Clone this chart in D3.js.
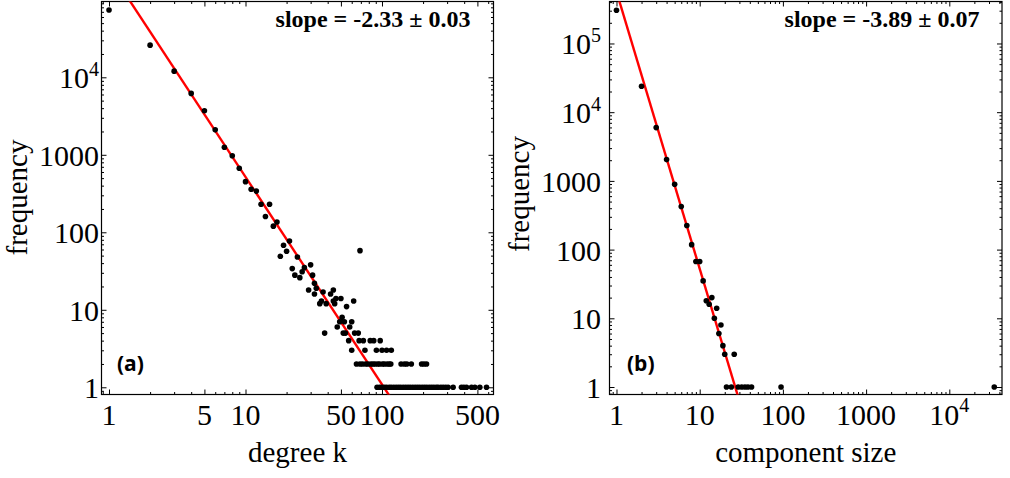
<!DOCTYPE html>
<html><head><meta charset="utf-8">
<script src="https://cdn.jsdelivr.net/npm/d3@7"></script>
<style>
html,body{margin:0;padding:0;background:#fff;}
svg{display:block;}
text{font-family:"Liberation Serif","Times New Roman",serif;fill:#000;}
</style></head><body>
<svg id="chart" width="1010" height="478"></svg>
<script>
// ---------- data ----------
const degreeK = [1,2,3,4,5,6,7,8,9,10,11,12,13,14,15,16,17,18,19,20,21,22,23,24,25,26,27,29,30,31,32,32,33,35,36,37,39,42,44,44,45,46,47,49,50,51,53,55,58,60,62,69,
  38,52,54,63,67,
  57,68,73,82,87,97,
  60,75,91,100,108,117,
  65,69,72,76,79,83,86,89,93,96,101,104,109,113,116,138,146,152,164,195,203,212,
  92,96,100,104,108,113,117,122,127,132,137,143,149,155,161,168,175,182,189,197,205,213,222,231,240,250,258,270,281,293,305,332,382,398,416,453,479,521,583];
const degreeFreq = [74000,26000,12000,6200,3700,2100,1250,970,670,450,360,340,230,160,230,120,136,49,68,57,77,34,28,48,26,31,35,18,38,28,22,16,19,12,13,17,12,16,18,13,12,14,6,7,14,8,7,11,6,7,13,58,
  5,5,5,5,5,
  4,4,4,4,4,4,
  3,3,3,3,3,3,
  2,2,2,2,2,2,2,2,2,2,2,2,2,2,2,2,2,2,2,2,2,2,
  1,1,1,1,1,1,1,1,1,1,1,1,1,1,1,1,1,1,1,1,1,1,1,1,1,1,1,1,1,1,1,1,1,1,1,1,1,1,1];

const compSize = [1,2,3,4,5,6,7,8,9,10,11,12,13,14,15,16,17,18,19,20,26,21,24,29,32,35,38,42,95,34700];
const compFreq = [304000,23800,5970,2040,893,423,224,118,67,67,35,18,16,20,10,14,6,8,4,3,3,1,1,1,1,1,1,1,1,1];

const degreeXTicks = [1,5,10,50,100,500];
const degreeYTicks = [1,10,100,1000,10000];
const compXTicks = [1,10,100,1000,10000];
const compYTicks = [1,10,100,1000,10000,100000];

// drawn red lines: [amplitude, exponent]  f = A * x^exponent
const degreeFit = [248000, -2.679];
const compFit = [568000, -4.033];

const slopeLabels = ["slope = -2.33 \u00b1 0.03", "slope = -3.89 \u00b1 0.07"];
const panelTags = ["(a)", "(b)"];
const xTitles = ["degree k", "component size"];
const yTitle = "frequency";

// ---------- layout ----------
const panels = [
  {xs:degreeK, ys:degreeFreq, xt:degreeXTicks, yt:degreeYTicks, fit:degreeFit,
   x0:101.5, x1:493.5, y0:1.5, y1:394.5, xDom:[0.881,656], yDom:[0.807,95100],
   yLabEnd:99, yTitleX:27, yTitleY:197.5, slopeX:373, tagX:117,
   slope:slopeLabels[0], tag:panelTags[0], xTitle:xTitles[0]},
  {xs:compSize, ys:compFreq, xt:compXTicks, yt:compYTicks, fit:compFit,
   x0:609.5, x1:1002, y0:1.5, y1:394.5, xDom:[0.824,42990], yDom:[0.778,408300],
   yLabEnd:601, yTitleX:529, yTitleY:194, slopeX:882, tagX:627,
   slope:slopeLabels[1], tag:panelTags[1], xTitle:xTitles[1]}
];

const svg = d3.select("#chart");

function minorTicks(dom, majors){
  const out=[];
  const lo=Math.floor(Math.log10(dom[0])), hi=Math.ceil(Math.log10(dom[1]));
  for(let d=lo; d<=hi; d++){
    for(let m=1;m<=9;m++){
      const v=m*Math.pow(10,d);
      if(v>=dom[0] && v<=dom[1] && !majors.some(t=>Math.abs(t-v)/v<1e-9)) out.push(v);
    }
  }
  return out;
}

function addLabel(sel, v, fs){
  if(v>=10000){
    const e=Math.round(Math.log10(v));
    sel.append("tspan").text("10");
    sel.append("tspan").attr("font-size", fs*0.67).attr("dy", -fs*0.42).text(String(e));
  } else {
    sel.text(String(v));
  }
}

panels.forEach(p=>{
  const x = d3.scaleLog().domain(p.xDom).range([p.x0,p.x1]);
  const y = d3.scaleLog().domain(p.yDom).range([p.y1,p.y0]);
  const g = svg.append("g");
  const clipId = "clip"+Math.round(p.x0);
  svg.append("clipPath").attr("id",clipId).append("rect")
    .attr("x",p.x0).attr("y",p.y0).attr("width",p.x1-p.x0).attr("height",p.y1-p.y0);

  const xMinor = minorTicks(p.xDom, p.xt);
  const yMinor = minorTicks(p.yDom, p.yt);
  const strip = s=>s.select(".domain").remove();
  const mk = (axisFn, scale, vals, len, tr)=>{
    g.append("g").attr("transform",tr)
      .call(axisFn(scale).tickValues(vals).tickSize(-len).tickFormat(""))
      .call(strip)
      .selectAll("line").attr("stroke","#000").attr("stroke-width",1);
  };
  [[p.xt,5],[xMinor,2.5]].forEach(([v,l])=>{
    mk(d3.axisBottom, x, v, l, `translate(0,${p.y1})`);
    mk(d3.axisTop, x, v, l, `translate(0,${p.y0})`);
  });
  [[p.yt,5],[yMinor,2.5]].forEach(([v,l])=>{
    mk(d3.axisLeft, y, v, l, `translate(${p.x0},0)`);
    mk(d3.axisRight, y, v, l, `translate(${p.x1},0)`);
  });

  // frame
  g.append("rect").attr("x",p.x0).attr("y",p.y0).attr("width",p.x1-p.x0).attr("height",p.y1-p.y0)
    .attr("fill","none").attr("stroke","#000").attr("stroke-width",1.2);

  // tick labels
  const fs=30;
  p.xt.forEach(v=>{
    const t=g.append("text").attr("x",x(v)).attr("y",424.5).attr("text-anchor","middle").attr("font-size",fs);
    addLabel(t,v,fs);
  });
  p.yt.forEach(v=>{
    const t=g.append("text").attr("x",p.yLabEnd).attr("y",y(v)+11).attr("text-anchor","end").attr("font-size",fs);
    addLabel(t,v,fs);
  });

  // titles
  g.append("text").attr("x",(p.x0+p.x1)/2).attr("y",462).attr("text-anchor","middle")
    .attr("font-size",29).text(p.xTitle);
  g.append("text").attr("transform",`translate(${p.yTitleX},${p.yTitleY}) rotate(-90)`)
    .attr("text-anchor","middle").attr("font-size",29).text(yTitle);

  // fit line
  const [A,ex]=p.fit;
  const xa = Math.pow(p.yDom[1]*1.2/A, 1/ex), xb = Math.pow(p.yDom[0]/1.2/A, 1/ex);
  g.append("line").attr("clip-path",`url(#${clipId})`)
    .attr("x1",x(xa)).attr("y1",y(A*Math.pow(xa,ex)))
    .attr("x2",x(xb)).attr("y2",y(A*Math.pow(xb,ex)))
    .attr("stroke","#f00").attr("stroke-width",2.4);

  // points
  g.append("g").selectAll("circle").data(p.xs.map((v,i)=>[v,p.ys[i]])).join("circle")
    .attr("cx",d=>x(d[0])).attr("cy",d=>y(d[1])).attr("r",2.8).attr("fill","#000");

  // annotations
  g.append("text").attr("x",p.slopeX).attr("y",27).attr("text-anchor","middle")
    .attr("font-size",24).attr("font-weight","bold").text(p.slope);
  g.append("text").attr("x",p.tagX).attr("y",371).attr("font-size",21)
    .style("font-family","'Open Sans','DejaVu Sans',sans-serif").attr("font-weight","bold").text(p.tag);
});
</script>
</body></html>
